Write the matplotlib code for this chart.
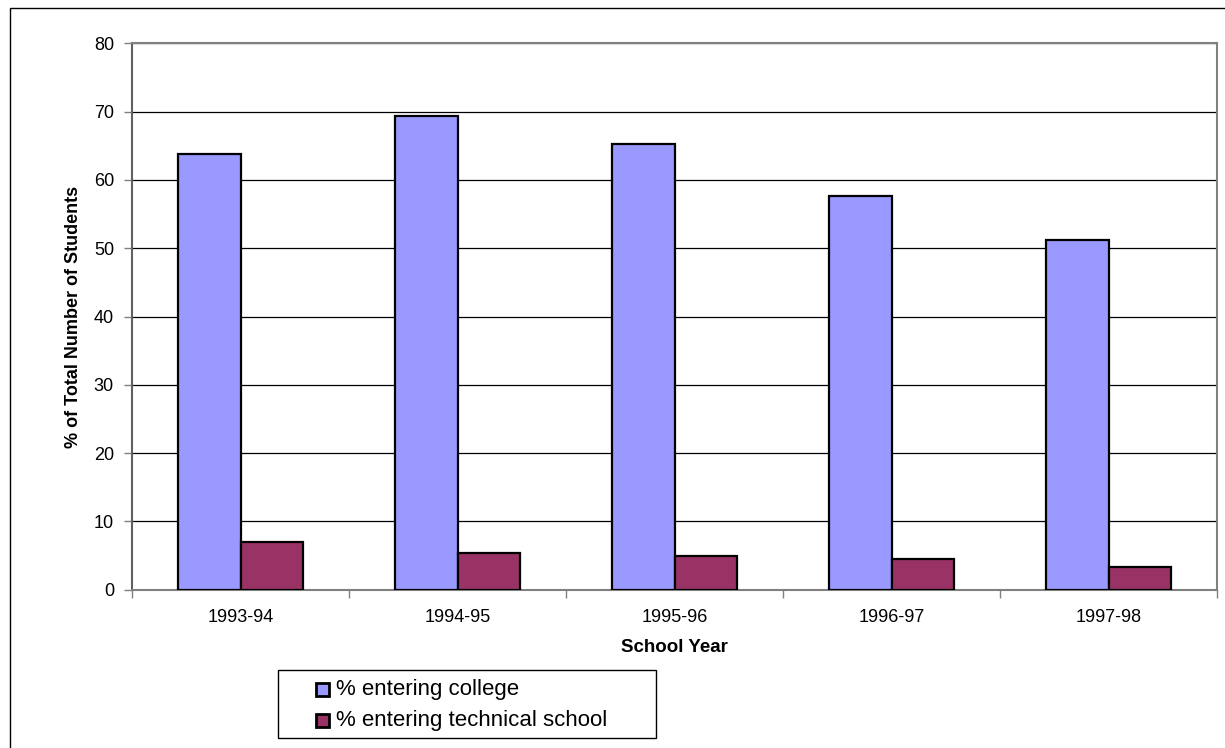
import matplotlib
matplotlib.use("Agg")
import matplotlib.pyplot as plt
from matplotlib.patches import Rectangle
import numpy as np

plt.rcParams['font.family'] = ['Liberation Sans', 'DejaVu Sans']

years = ["1993-94", "1994-95", "1995-96", "1996-97", "1997-98"]
college = [63.8, 69.3, 65.2, 57.7, 51.2]
technical = [7.0, 5.4, 5.0, 4.5, 3.3]
series_names = ["% entering college", "% entering technical school"]
series_colors = ["#9999FF", "#993366"]

W, H = 1225, 748
fig = plt.figure(figsize=(W / 100, H / 100), dpi=100)
fig.patch.set_facecolor("white")

# chart-area border (left and top edges visible)
fig.add_artist(Rectangle((10 / W, -0.2), 1.5, 1.2 - 8 / H,
                         transform=fig.transFigure, fill=False,
                         edgecolor="black", linewidth=1.0))

left, right = 132 / W, 1217 / W
bottom, top = 1 - 589.7 / H, 1 - 43.3 / H
ax = fig.add_axes([left, bottom, right - left, top - bottom])

x = np.arange(len(years))
bw = 0.29
ax.bar(x - bw / 2, college, width=bw, color=series_colors[0],
       edgecolor="black", linewidth=1.6, zorder=3)
ax.bar(x + bw / 2, technical, width=bw, color=series_colors[1],
       edgecolor="black", linewidth=1.6, zorder=3)

ax.set_xlim(-0.5, len(years) - 0.5)
ax.set_ylim(0, 80)
ax.set_yticks(np.arange(0, 81, 10))
ax.yaxis.grid(True, color="black", linewidth=0.9, zorder=0)
ax.set_axisbelow(True)

# category boundary ticks on the x axis, labels centred under groups
ax.set_xticks(np.arange(-0.5, len(years), 1.0))
ax.set_xticklabels([])
ax.set_xticks(x, minor=True)
ax.set_xticklabels(years, minor=True, fontsize=13)
ax.tick_params(axis="x", which="major", direction="out", length=6,
               width=1, color="#808080")
ax.tick_params(axis="x", which="minor", length=0, pad=14)
ax.tick_params(axis="y", direction="out", length=6, width=1,
               color="#808080", labelsize=13, pad=7)

for side in ["top", "right", "bottom"]:
    ax.spines[side].set_color("#808080")
    ax.spines[side].set_linewidth(1.5)
ax.spines["left"].set_color("#606060")
ax.spines["left"].set_linewidth(1.5)

ax.set_xlabel("School Year", fontsize=13.5, fontweight="bold")
ax.set_ylabel("% of Total Number of Students", fontsize=13,
              fontweight="bold")
ax.xaxis.label.set_va("center")
ax.yaxis.label.set_va("center")
ax.xaxis.set_label_coords(0.5, (589.7 - 648) / 546.4)
ax.yaxis.set_label_coords((74 - 132) / 1085, 0.5)

# legend box
fig.add_artist(Rectangle((278 / W, 1 - 738 / H), (656 - 278) / W, (738 - 670) / H,
                         transform=fig.transFigure, fill=False,
                         edgecolor="black", linewidth=1.0))
for i, (name, col) in enumerate(zip(series_names, series_colors)):
    yc = 689.5 + i * 31
    fig.add_artist(Rectangle((316 / W, 1 - (yc + 6.5) / H), 13 / W, 13 / H,
                             transform=fig.transFigure, facecolor=col,
                             edgecolor="black", linewidth=2.0))
    fig.text(336 / W, 1 - yc / H, name, fontsize=16, va="center", ha="left")

fig.savefig("out.png", dpi=100)
